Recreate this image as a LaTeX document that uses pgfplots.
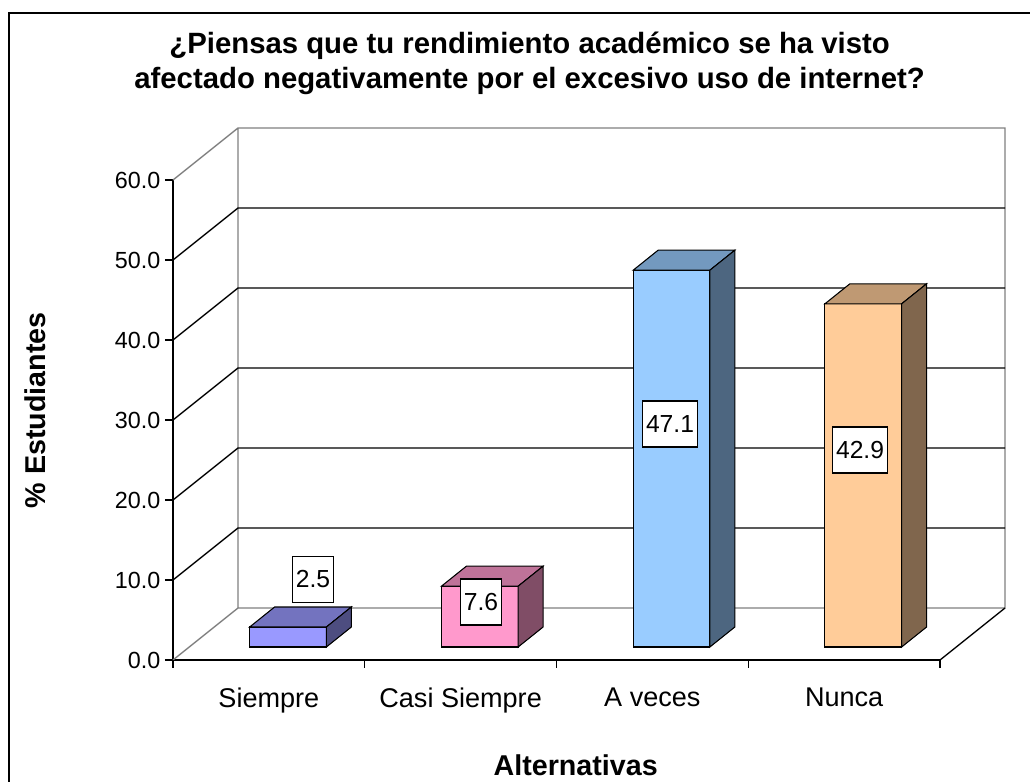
\documentclass[border=0pt]{standalone}
\usepackage{fontspec}
\setmainfont{Liberation Sans}
\usepackage{pgfplots}
\pgfplotsset{compat=1.18}
\definecolor{sfront}{HTML}{9999FF}
\definecolor{stop}{HTML}{7373BF}
\definecolor{sside}{HTML}{4D4D80}
\definecolor{cfront}{HTML}{FF99CC}
\definecolor{ctop}{HTML}{BF7399}
\definecolor{cside}{HTML}{804D66}
\definecolor{afront}{HTML}{99CCFF}
\definecolor{atop}{HTML}{7399BF}
\definecolor{aside}{HTML}{4D6680}
\definecolor{nfront}{HTML}{FFCC99}
\definecolor{ntop}{HTML}{BF9973}
\definecolor{nside}{HTML}{80664D}
\definecolor{wallgray}{HTML}{808080}
\begin{document}
\begin{tikzpicture}
\path[use as bounding box] (-129.75pt,-90.75pt) rectangle (642.75pt,495pt);
\fill[white] (-129.75pt,-90.75pt) rectangle (642.75pt,495pt);
\draw[line width=1.9pt] (-123pt,-95pt) -- (-123pt,485.25pt) -- (650pt,485.25pt);
\begin{axis}[
  at={(0,0)}, anchor=south west,
  scale only axis, width=575.25pt, height=360pt,
  xmin=0, xmax=4, ymin=0, ymax=60,
  clip=false,
  axis lines*=left,
  axis line style={line width=1pt, black},
  ytick={0,10,...,60},
  tick align=outside, major tick length=6pt,
  tick style={black, line width=1pt},
  xtick={0.5,1.5,2.5,3.5},
  xticklabels={Siempre,Casi Siempre,A veces,Nunca},
  xtick style={draw=none},
  yticklabel style={font=\fontsize{17.5}{20}\selectfont, /pgf/number format/fixed, /pgf/number format/fixed zerofill, /pgf/number format/precision=1, /pgf/number format/assume math mode=true},
  xticklabel style={font=\fontsize{20.3}{23}\selectfont, yshift=-11.5pt},
  ylabel={\% Estudiantes},
  ylabel style={at={(axis description cs:-0.18,0.52)}, anchor=center, font=\bfseries\fontsize{21.5}{24}\selectfont},
  xlabel={Alternativas},
  xlabel style={at={(axis description cs:0.525,-0.219)}, anchor=center, font=\bfseries\fontsize{21.5}{24}\selectfont},
  title={¿Piensas que tu rendimiento académico se ha visto\\afectado negativamente por el excesivo uso de internet?},
  title style={at={(axis description cs:0.465,1.2267)}, anchor=center, align=center, font=\bfseries\fontsize{22}{26.25}\selectfont},
]
% walls and floor
\addplot[wallgray, line width=1pt, forget plot] coordinates {(0,60) (0.339,66.5) (4.339,66.5) (4.339,6.5) (0.339,6.5) (0.339,66.5)};
\addplot[wallgray, line width=1pt, forget plot] coordinates {(0,0) (0.339,6.5)};
\addplot[black, line width=1pt, forget plot] coordinates {(4,0) (4.339,6.5)};
% gridlines
\addplot[black, line width=1pt, forget plot] coordinates {(0,10) (0.339,16.5) (4.339,16.5)};
\addplot[black, line width=1pt, forget plot] coordinates {(0,20) (0.339,26.5) (4.339,26.5)};
\addplot[black, line width=1pt, forget plot] coordinates {(0,30) (0.339,36.5) (4.339,36.5)};
\addplot[black, line width=1pt, forget plot] coordinates {(0,40) (0.339,46.5) (4.339,46.5)};
\addplot[black, line width=1pt, forget plot] coordinates {(0,50) (0.339,56.5) (4.339,56.5)};
% x ticks
\addplot[black, line width=1pt, forget plot] coordinates {(0,0) (0,-1)};
\addplot[black, line width=1pt, forget plot] coordinates {(1,0) (1,-1)};
\addplot[black, line width=1pt, forget plot] coordinates {(2,0) (2,-1)};
\addplot[black, line width=1pt, forget plot] coordinates {(3,0) (3,-1)};
\addplot[black, line width=1pt, forget plot] coordinates {(4,0) (4,-1)};
% Siempre 2.5
\addplot[fill=sfront, draw=black, line width=0.8pt] coordinates {(0.40,1.625) (0.80,1.625) (0.80,4.125) (0.40,4.125)} -- cycle;
\addplot[fill=stop, draw=black, line width=0.8pt] coordinates {(0.40,4.125) (0.80,4.125) (0.93,6.625) (0.53,6.625)} -- cycle;
\addplot[fill=sside, draw=black, line width=0.8pt] coordinates {(0.80,1.625) (0.93,4.125) (0.93,6.625) (0.80,4.125)} -- cycle;
% Casi Siempre 7.6
\addplot[fill=cfront, draw=black, line width=0.8pt] coordinates {(1.40,1.625) (1.80,1.625) (1.80,9.225) (1.40,9.225)} -- cycle;
\addplot[fill=ctop, draw=black, line width=0.8pt] coordinates {(1.40,9.225) (1.80,9.225) (1.93,11.725) (1.53,11.725)} -- cycle;
\addplot[fill=cside, draw=black, line width=0.8pt] coordinates {(1.80,1.625) (1.93,4.125) (1.93,11.725) (1.80,9.225)} -- cycle;
% A veces 47.1
\addplot[fill=afront, draw=black, line width=0.8pt] coordinates {(2.40,1.625) (2.80,1.625) (2.80,48.725) (2.40,48.725)} -- cycle;
\addplot[fill=atop, draw=black, line width=0.8pt] coordinates {(2.40,48.725) (2.80,48.725) (2.93,51.225) (2.53,51.225)} -- cycle;
\addplot[fill=aside, draw=black, line width=0.8pt] coordinates {(2.80,1.625) (2.93,4.125) (2.93,51.225) (2.80,48.725)} -- cycle;
% Nunca 42.9
\addplot[fill=nfront, draw=black, line width=0.8pt] coordinates {(3.40,1.625) (3.80,1.625) (3.80,44.525) (3.40,44.525)} -- cycle;
\addplot[fill=ntop, draw=black, line width=0.8pt] coordinates {(3.40,44.525) (3.80,44.525) (3.93,47.025) (3.53,47.025)} -- cycle;
\addplot[fill=nside, draw=black, line width=0.8pt] coordinates {(3.80,1.625) (3.93,4.125) (3.93,47.025) (3.80,44.525)} -- cycle;
% value labels
\tikzset{vlab/.style={draw=black, fill=white, line width=0.8pt, minimum height=34.5pt, inner xsep=2.5pt, font=\fontsize{18.5}{21}\selectfont}}
\node[vlab] at (axis cs:0.730,10.1) {2.5};
\node[vlab] at (axis cs:1.606,7.25) {7.6};
\node[vlab] at (axis cs:2.592,29.5) {47.1};
\node[vlab] at (axis cs:3.583,26.25) {42.9};
\end{axis}
\end{tikzpicture}
\end{document}
